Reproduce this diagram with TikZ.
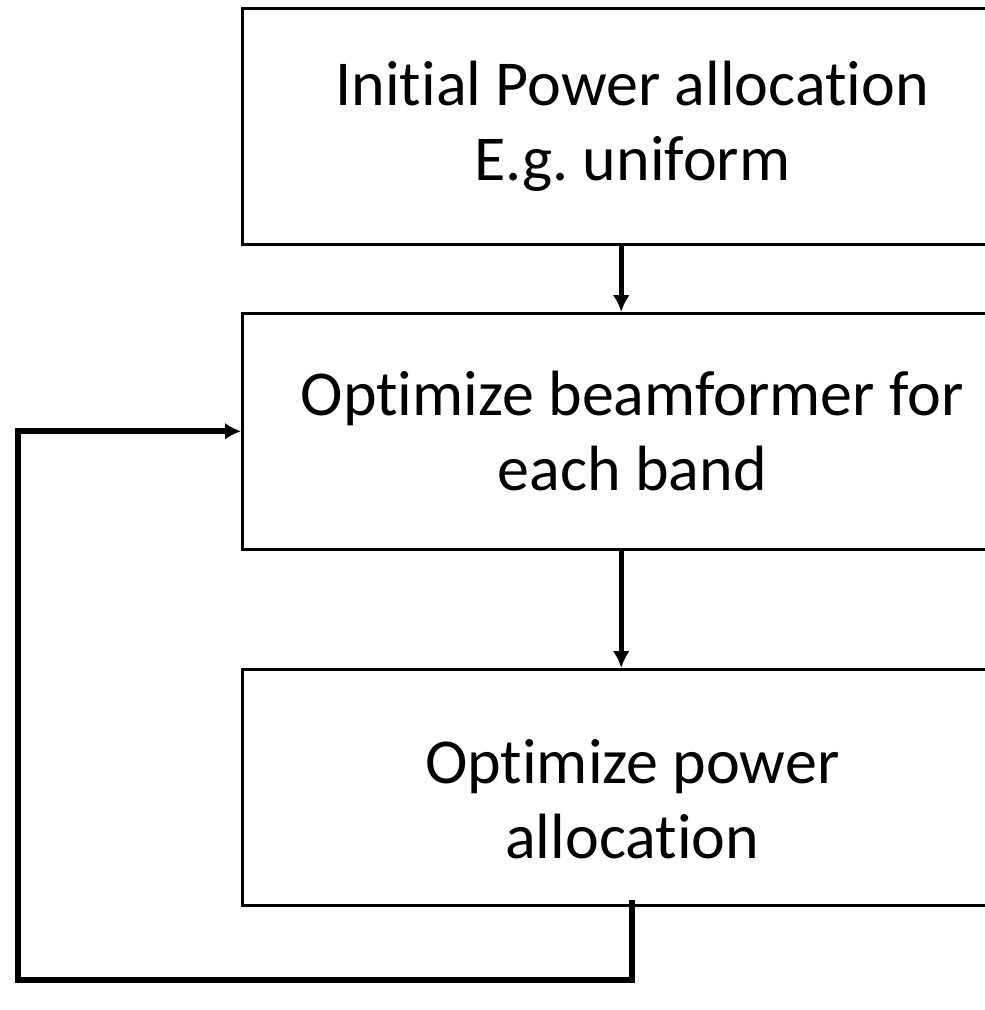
\documentclass[tikz,border=0pt]{standalone}
\usepackage{fontspec}
\setmainfont{Carlito}[Ligatures=NoCommon]
\usetikzlibrary{positioning,arrows.meta}
\frenchspacing
\begin{document}
\begin{tikzpicture}[x=1pt, y=-1pt,
    font=\fontsize{64}{75}\selectfont,
    stage/.style={draw, line width=2.5pt, rectangle, anchor=north west,
      minimum width=780pt, minimum height=236pt, align=center},
    flow/.style={-{Latex[length=17pt,width=17pt]}, line width=5pt},
    loop/.style={-{Latex[length=16pt,width=17pt]}, line width=6pt}]
  \useasboundingbox (0,0) rectangle (985,1010);
  \clip (0,0) rectangle (985,1010);
  % stages
  \node[stage] (init) at (241,7) {Initial Power allocation\\E.g. uniform};
  \node[stage] (beam) at (241,312) {Optimize beamformer for\\each band};
  \node[stage] (pow) at (241,668) {\rule{0pt}{68pt}Optimize power\\allocation};
  % downward arrows
  \draw[flow] ([xshift=-11pt]init.south) -- ([xshift=-11pt]beam.north);
  \draw[flow] ([xshift=-11pt]beam.south) -- ([xshift=-11pt]pow.north);
  % feedback
  \coordinate (low) at (18,980);
  \draw[loop] ([yshift=7pt]pow.south) |- (low) |- (beam.west);
\end{tikzpicture}
\end{document}
